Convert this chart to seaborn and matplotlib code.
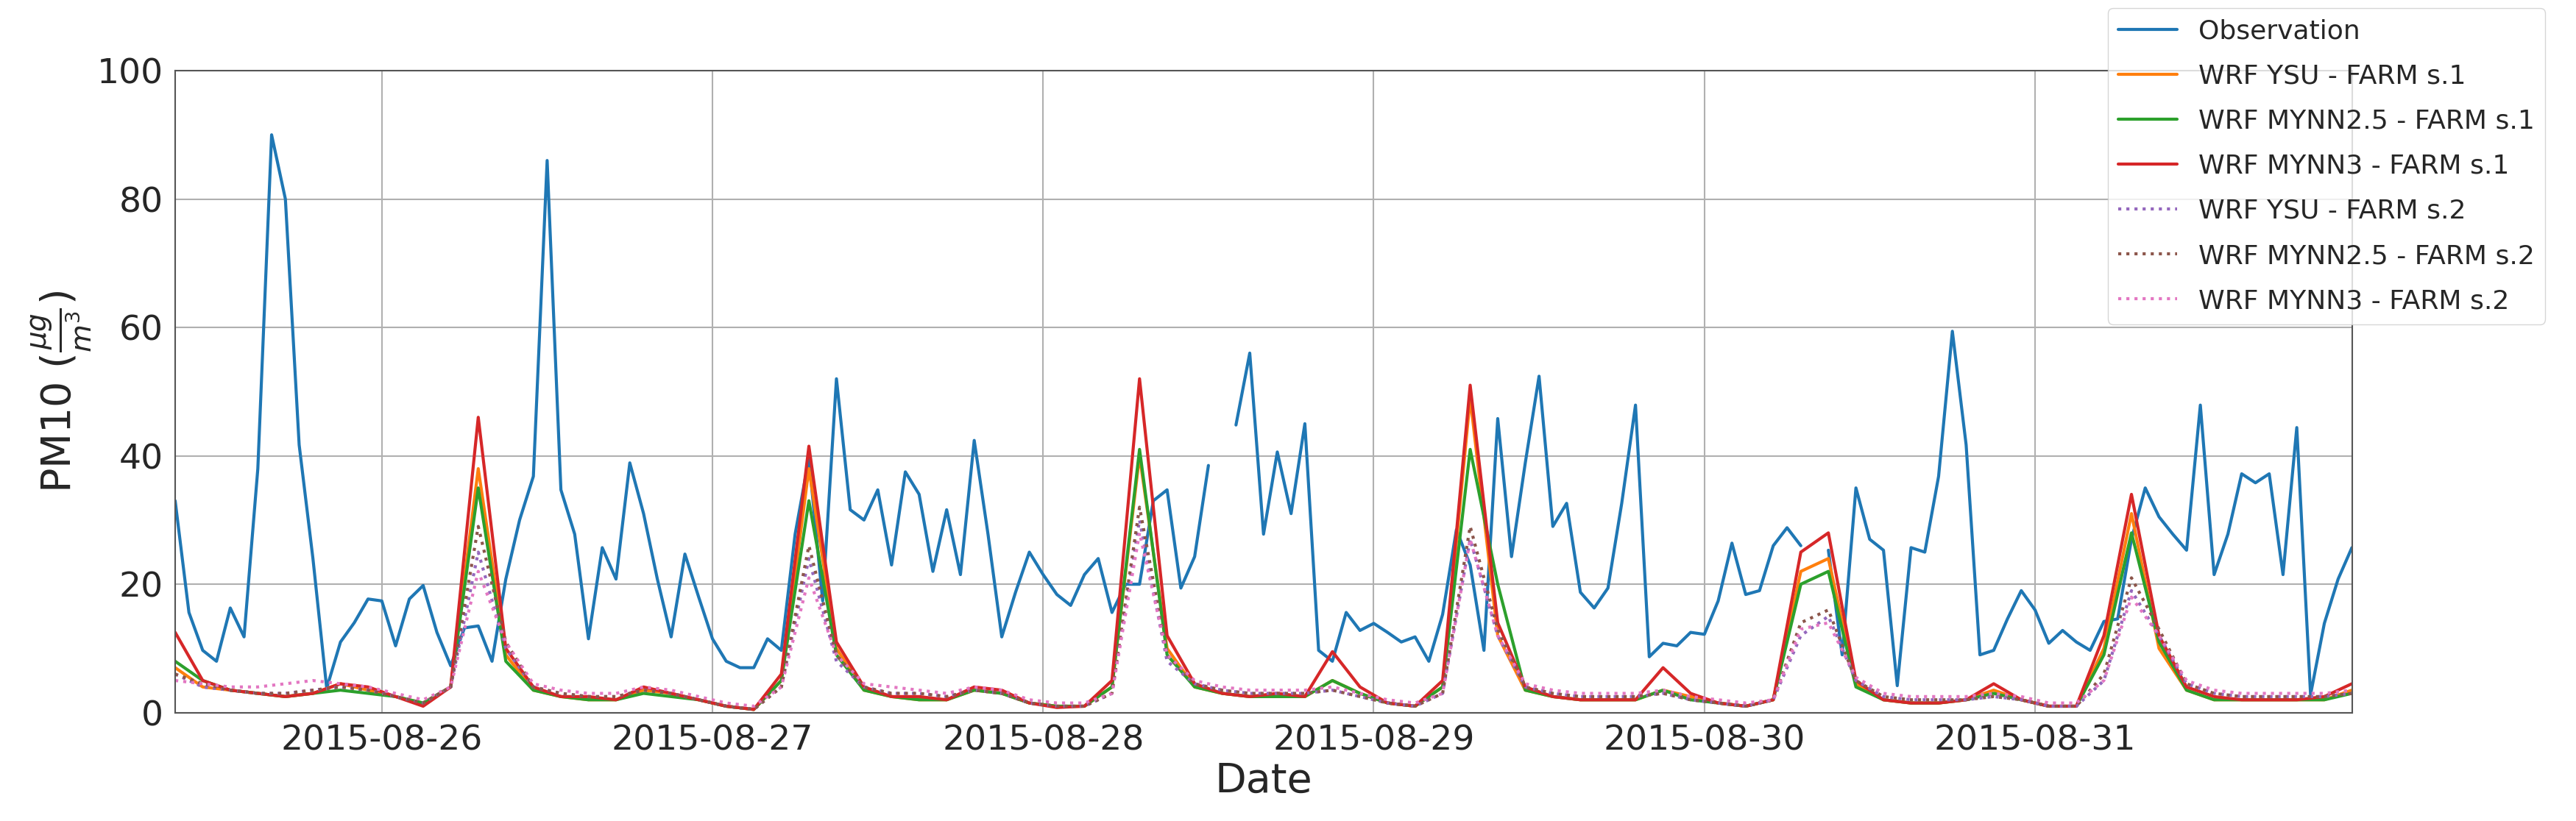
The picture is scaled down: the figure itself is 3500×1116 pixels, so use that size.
import numpy as np
import pandas as pd
import matplotlib
matplotlib.use("Agg")
import matplotlib.pyplot as plt
import matplotlib.dates as mdates
import seaborn as sns

nan = np.nan

# hourly observations, 2015-08-25 09:00 .. 2015-08-31 23:00
obs = [33, 15.6, 9.7, 8, 16.3, 11.8, 38, 90, 80, 41.7, 24, 3.8, 11, 14, 17.7,
       17.4, 10.4, 17.7, 19.8, 12.5, 7.3, 13.2, 13.5, 8, 20.8, 30, 36.8, 86, 34.7, 27.8, 11.5, 25.7, 20.8, 38.9, 31, 20.8, 11.8, 24.7, 18,
       11.5, 8, 7, 7, 11.5, 9.7, 27.8, 39.6, 17.4, 52, 31.6, 30, 34.7, 23, 37.5, 34, 22, 31.6, 21.5, 42.4, 27.8, 11.8, 18.75, 25,
       21.5, 18.4, 16.7, 21.5, 24, 15.6, 20, 20, 33, 34.7, 19.4, 24.3, 38.5, nan, 44.8, 56, 27.8, 40.6, 31, 45, 9.7, 8, 15.6, 12.8,
       13.9, 12.5, 11, 11.8, 8, 15.3, 28.5, 23, 9.7, 45.8, 24.3, 38.9, 52.4, 29, 32.6, 18.75, 16.3, 19.4, 32.6, 47.9, 8.7, 10.8, 10.4, 12.5,
       12.2, 17.4, 26.4, 18.4, 19, 26, 28.8, 26, nan, 25.3, 9, 35, 27, 25.3, 4.2, 25.7, 25, 36.8, 59.4, 41.7, 9, 9.7, 14.6, 19,
       16, 10.8, 12.8, 11, 9.7, 14.2, 14.6, 27, 35, 30.5, 27.8, 25.3, 47.9, 21.5, 27.8, 37.2, 35.8, 37.2, 21.5, 44.4, 2.8, 13.9, 20.8, 25.7]

# model output every 2 hours, 2015-08-25 09:00 .. 2015-08-31 23:00
ysu_s1 = [7, 4, 3.5, 3, 2.5, 3, 4.5, 3.5,
          2.5, 1.5, 4, 38, 9, 3.5, 2.5, 2, 2, 3.5, 3, 2,
          1, 0.5, 5, 38, 10, 3.5, 2.5, 2, 2, 3.5, 3, 1.5,
          1, 1, 4, 40, 10, 4, 3, 2.5, 2.5, 2.5, 5, 3,
          1.5, 1, 4, 49, 12, 3.5, 2.5, 2, 2, 2, 3.5, 2.5,
          1.5, 1, 2, 22, 24, 4.5, 2, 1.5, 1.5, 2, 3.5, 2,
          1, 1, 10, 31, 10, 3.5, 2, 2, 2, 2, 2, 3.5]
mynn25_s1 = [8, 5, 3.5, 3, 2.5, 3, 3.5, 3,
             2.5, 1.5, 4, 35, 8, 3.5, 2.5, 2, 2, 3, 2.5, 2,
             1, 0.5, 5, 33, 9, 3.5, 2.5, 2, 2, 3.5, 3, 1.5,
             1, 1, 4, 41, 9, 4, 3, 2.5, 2.5, 2.5, 5, 3,
             1.5, 1, 4, 41, 20, 3.5, 2.5, 2, 2, 2, 3.5, 2,
             1.5, 1, 2, 20, 22, 4, 2, 1.5, 1.5, 2, 3, 2,
             1, 1, 9, 28, 11, 3.5, 2, 2, 2, 2, 2, 3]
mynn3_s1 = [12.5, 5, 3.5, 3, 2.5, 3, 4.5, 4,
            2.5, 1, 4, 46, 10, 4, 2.5, 2.5, 2, 4, 3, 2,
            1, 0.5, 6, 41.5, 11, 4, 2.5, 2.5, 2, 4, 3.5, 1.5,
            0.8, 1, 5, 52, 12, 4.5, 3, 2.5, 3, 2.5, 9.5, 4,
            1.5, 1, 5, 51, 14, 4, 2.5, 2, 2, 2, 7, 3,
            1.5, 1, 2, 25, 28, 5, 2, 1.5, 1.5, 2, 4.5, 2,
            1, 1, 12, 34, 12, 4, 2.5, 2, 2, 2, 2.5, 4.5]
ysu_s2 = [6, 4, 3.5, 3, 3, 3.5, 4, 3.5,
          2.5, 1.5, 4, 25, 10, 4, 3, 2.5, 2.5, 3.5, 3, 2,
          1, 0.5, 4, 24, 8, 4, 3, 3, 2.5, 3.5, 3, 1.5,
          1, 1, 3, 30, 8, 4.5, 3.5, 3, 3, 3, 3.5, 2.5,
          1.5, 1, 3, 27, 12, 4, 3, 2.5, 2.5, 2.5, 3, 2,
          1.5, 1, 2, 12, 15, 5, 2.5, 2, 2, 2, 2.5, 2,
          1, 1, 5, 19, 12, 4.5, 3, 2.5, 2.5, 2.5, 2.5, 3]
mynn25_s2 = [6, 4.5, 3.5, 3, 3, 3.5, 4, 3.5,
             2.5, 1.5, 4, 29, 11, 4, 3, 2.5, 2.5, 3.5, 3, 2,
             1, 0.5, 4, 26, 9, 4, 3, 3, 2.5, 3.5, 3, 1.5,
             1, 1, 3, 32, 9, 4.5, 3.5, 3, 3, 3, 3.5, 2.5,
             1.5, 1, 3, 29, 13, 4, 3, 2.5, 2.5, 2.5, 3, 2,
             1.5, 1, 2, 14, 16, 5, 2.5, 2, 2, 2, 2.5, 2,
             1, 1, 6, 21, 13, 4.5, 3, 2.5, 2.5, 2.5, 2.5, 3]
mynn3_s2 = [5, 4.5, 4, 4, 4.5, 5, 4.5, 4,
            3, 2, 4, 22, 11, 4.5, 3.5, 3, 3, 4, 3.5, 2.5,
            1.5, 1, 4, 21, 9, 4.5, 4, 3.5, 3, 4, 3.5, 2,
            1.5, 1.5, 3, 28, 9, 5, 4, 3.5, 3.5, 3.5, 4, 3,
            2, 1.5, 3, 27, 12, 4.5, 3.5, 3, 3, 3, 3.5, 2.5,
            2, 1.5, 2, 13, 14, 5.5, 3, 2.5, 2.5, 2.5, 3, 2.5,
            1.5, 1.5, 5, 18, 12, 5, 3.5, 3, 3, 3, 3, 3.5]

t_obs = pd.date_range("2015-08-25 09:00", periods=len(obs), freq="h")
t_mod = pd.date_range("2015-08-25 09:00", periods=len(ysu_s1), freq="2h")

models = [
    ("WRF YSU - FARM s.1", ysu_s1, "#ff7f0e", "-"),
    ("WRF MYNN2.5 - FARM s.1", mynn25_s1, "#2ca02c", "-"),
    ("WRF MYNN3 - FARM s.1", mynn3_s1, "#d62728", "-"),
    ("WRF YSU - FARM s.2", ysu_s2, "#9467bd", ":"),
    ("WRF MYNN2.5 - FARM s.2", mynn25_s2, "#8c564b", ":"),
    ("WRF MYNN3 - FARM s.2", mynn3_s2, "#e377c2", ":"),
]

sns.set_style("white")
plt.rcParams['font.family'] = ['DejaVu Sans']

fig = plt.figure(figsize=(35, 11.16), dpi=100)
ax = fig.add_axes([0.068, 0.132, 0.845, 0.782])

# observation has gaps, so plot it directly to keep the breaks
ax.plot(t_obs, obs, color="#1f77b4", lw=3, label="Observation")
for name, vals, col, ls in models:
    sns.lineplot(x=t_mod, y=vals, ax=ax, color=col, linestyle=ls, lw=3, label=name)

ax.set_xlim(t_obs[0], t_obs[-1])
ax.set_ylim(0, 100)
ax.xaxis.set_major_locator(mdates.DayLocator())
ax.xaxis.set_major_formatter(mdates.DateFormatter("%Y-%m-%d"))
ax.grid(True, color="#b0b0b0", lw=1.5)
ax.tick_params(labelsize=34, length=8, width=1.5)
for s in ax.spines.values():
    s.set_color("#555555")
    s.set_linewidth(1.5)
ax.set_xlabel("Date", fontsize=40)
ax.set_ylabel(r"PM10 ($\frac{\mu g}{m^3}$)", fontsize=40)

h, l = ax.get_legend_handles_labels()
ax.legend(h, l, loc="upper right", bbox_to_anchor=(0.988, 0.99),
          bbox_transform=fig.transFigure, fontsize=26, frameon=True,
          handlelength=2.2, labelspacing=0.75, borderaxespad=0)

fig.savefig("out.png", dpi=100)
